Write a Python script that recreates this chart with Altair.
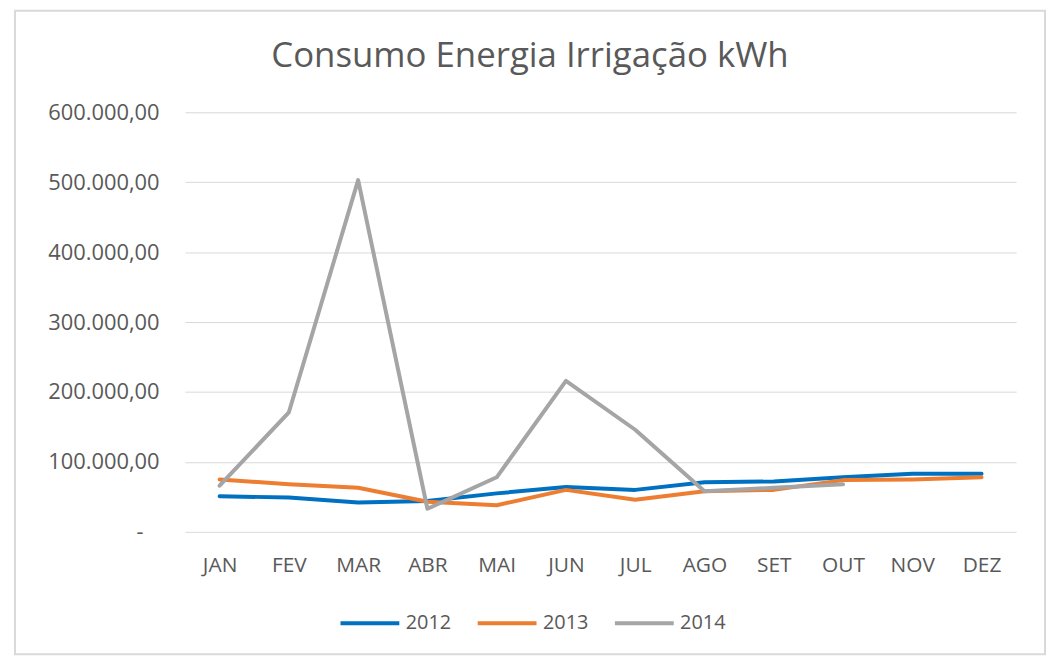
import altair as alt
import pandas as pd

title_text = ["Consumo Energia Irrigação kWh"]
months = ["JAN", "FEV", "MAR", "ABR", "MAI", "JUN", "JUL", "AGO", "SET", "OUT", "NOV", "DEZ"]
years = ["2012", "2013", "2014"]
v2012 = [51000, 49000, 42000, 44000, 55000, 64000, 60000, 71000, 72000, 78000, 83000, 83000]
v2013 = [75000, 68000, 63000, 43000, 38000, 60000, 46000, 58000, 60000, 74000, 75000, 78000]
v2014 = [66000, 171000, 503000, 33000, 78000, 216000, 146000, 58000, 63000, 68000, None, None]
colors = ["#0070C0", "#ED7D31", "#A5A5A5"]
y_ticks = [0, 100000, 200000, 300000, 400000, 500000, 600000]

rows = []
for yr, vals in zip(years, [v2012, v2013, v2014]):
    for m, v in zip(months, vals):
        if v is not None:
            rows.append({"Mês": m, "Ano": yr, "kWh": v})
df = pd.DataFrame(rows)

FONT = "Open Sans"
GREY_TXT = "#595959"

lines = alt.Chart(df).mark_line(strokeWidth=4, strokeCap="round", strokeJoin="round").encode(
    x=alt.X("Mês:N", sort=months,
            scale=alt.Scale(type="point", padding=0.5),
            axis=alt.Axis(title=None, labelAngle=0, domain=False, ticks=False,
                          labelPadding=23, labelFontSize=21, labelFont=FONT,
                          labelColor=GREY_TXT)),
    y=alt.Y("kWh:Q", scale=alt.Scale(domain=[0, 600000], nice=False),
            axis=alt.Axis(title=None, values=y_ticks, domain=False, ticks=False,
                          gridColor="#D9D9D9", gridWidth=1,
                          labelPadding=26, labelFontSize=22, labelFont=FONT,
                          labelColor=GREY_TXT,
                          labelExpr="datum.value == 0 ? '-\u2800' : format(datum.value/1000, 'd') + '.000,00'")),
    color=alt.Color("Ano:N", scale=alt.Scale(domain=years, range=colors),
                    legend=alt.Legend(title=None, orient="none", direction="horizontal",
                                      legendX=154, legendY=482,
                                      symbolType="stroke", symbolSize=3500,
                                      symbolStrokeWidth=4, labelFontSize=20,
                                      labelFont=FONT, labelColor=GREY_TXT,
                                      labelOffset=4, columnPadding=18)),
    detail="Ano:N",
)

border = alt.Chart(pd.DataFrame({"a": [0]})).mark_rect(
    fill="transparent", stroke="#D9D9D9", strokeWidth=2
).encode(
    x=alt.value(-171), x2=alt.value(865), y=alt.value(-102), y2=alt.value(545)
)

title = alt.Chart(pd.DataFrame({"t": title_text})).mark_text(
    font=FONT, fontSize=35, color=GREY_TXT, align="center", baseline="alphabetic"
).encode(
    text="t:N", x=alt.value(347), y=alt.value(-46)
)

chart = alt.layer(border, title, lines).properties(
    width=836, height=422,
    padding={"left": 178, "top": 103, "right": 30, "bottom": 124},
    autosize=alt.AutoSizeParams(type="none"),
).configure_view(stroke=None)

chart.save("out.html", embed_options={"renderer": "svg", "actions": False})
